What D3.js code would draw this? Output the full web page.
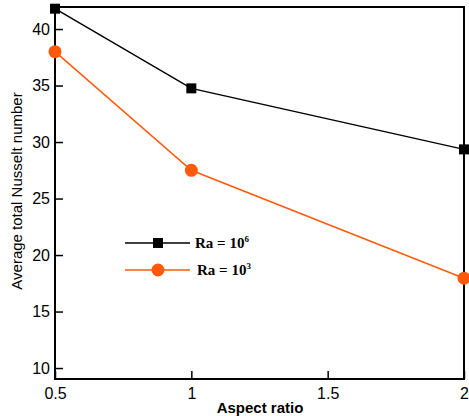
<!DOCTYPE html>
<html>
<head>
<meta charset="utf-8">
<script src="https://cdn.jsdelivr.net/npm/d3@7/dist/d3.min.js"></script>
<style>
  html, body { margin: 0; padding: 0; background: #fff; }
  svg { display: block; }
</style>
</head>
<body>
<svg id="chart" width="469" height="416"></svg>
<script>
// Aspect ratios on the x axis
const aspectRatios = [0.5, 1, 2];
// Average total Nusselt number for each Rayleigh number
const nuRa6 = [41.8, 34.75, 29.35];
const nuRa3 = [38.0, 27.5, 17.95];
// Axis ticks
const xTicks = [0.5, 1, 1.5, 2];
const yTicks = [10, 15, 20, 25, 30, 35, 40];
// Legend entries: base text and exponent
const seriesNames = ["Ra = 10", "Ra = 10"];
const seriesExponents = ["6", "3"];

const svg = d3.select("#chart");
const plotLeft = 55, plotRight = 464, plotTop = 7, plotBottom = 379;

const x = d3.scaleLinear().domain([0.5, 2]).range([plotLeft, plotRight]);
const y = d3.scaleLinear().domain([9.03, 41.95]).range([plotBottom, plotTop]);

const orange = "#ff5a0a";
const sans = "Arial, 'Liberation Sans', sans-serif";

// frame
svg.append("rect")
  .attr("x", plotLeft).attr("y", plotTop)
  .attr("width", plotRight - plotLeft).attr("height", plotBottom - plotTop)
  .attr("fill", "none").attr("stroke", "#000").attr("stroke-width", 2);

// y axis ticks (inward)
const yAxis = d3.axisLeft(y).tickValues(yTicks).tickSizeInner(-8).tickSizeOuter(0).tickPadding(5);
const gy = svg.append("g").attr("transform", `translate(${plotLeft},0)`).call(yAxis);
gy.select(".domain").remove();
gy.selectAll("line").attr("stroke", "#000").attr("stroke-width", 1.5);
gy.selectAll("text").attr("font-family", sans).attr("font-size", 16).attr("fill", "#000");

// x axis ticks (inward)
const xAxis = d3.axisBottom(x).tickValues(xTicks).tickFormat(d3.format("")).tickSizeInner(-8).tickSizeOuter(0).tickPadding(9);
const gx = svg.append("g").attr("transform", `translate(0,${plotBottom})`).call(xAxis);
gx.select(".domain").remove();
gx.selectAll("line").attr("stroke", "#000").attr("stroke-width", 1.5);
gx.selectAll("text").attr("font-family", sans).attr("font-size", 16).attr("fill", "#000");

// axis titles
svg.append("text")
  .attr("x", 260).attr("y", 413)
  .attr("text-anchor", "middle")
  .attr("font-family", sans)
  .attr("font-size", 15).attr("font-weight", "bold")
  .text("Aspect ratio");
svg.append("text")
  .attr("transform", "translate(22,191) rotate(-90)")
  .attr("text-anchor", "middle")
  .attr("font-family", sans)
  .attr("font-size", 15)
  .text("Average total Nusselt number");

const line = d3.line().x((d, i) => x(aspectRatios[i])).y(d => y(d));

// Ra = 10^6 series
svg.append("path").datum(nuRa6).attr("d", line)
  .attr("fill", "none").attr("stroke", "#000").attr("stroke-width", 1.5);
svg.selectAll(".sq").data(nuRa6).enter().append("rect")
  .attr("x", (d, i) => x(aspectRatios[i]) - 5)
  .attr("y", d => y(d) - 5)
  .attr("width", 10).attr("height", 10).attr("fill", "#000");

// Ra = 10^3 series
svg.append("path").datum(nuRa3).attr("d", line)
  .attr("fill", "none").attr("stroke", orange).attr("stroke-width", 1.5);
svg.selectAll(".ci").data(nuRa3).enter().append("circle")
  .attr("cx", (d, i) => x(aspectRatios[i]))
  .attr("cy", d => y(d))
  .attr("r", 6.5).attr("fill", orange);

// legend
const lg = svg.append("g");
lg.append("line").attr("x1", 125).attr("x2", 190).attr("y1", 243).attr("y2", 243)
  .attr("stroke", "#000").attr("stroke-width", 1.5);
lg.append("rect").attr("x", 153).attr("y", 238).attr("width", 10).attr("height", 10).attr("fill", "#000");
lg.append("line").attr("x1", 125).attr("x2", 190).attr("y1", 270).attr("y2", 270)
  .attr("stroke", orange).attr("stroke-width", 1.5);
lg.append("circle").attr("cx", 158).attr("cy", 270).attr("r", 6.5).attr("fill", orange);
const lt = lg.selectAll(".lt").data(seriesNames).enter().append("text")
  .attr("x", (d, i) => i === 0 ? 195 : 197)
  .attr("y", (d, i) => i === 0 ? 248 : 275)
  .attr("font-family", "'Liberation Serif', 'Times New Roman', serif")
  .attr("font-size", 15).attr("font-weight", "bold");
lt.append("tspan").text(d => d);
lt.append("tspan").attr("dy", -6).attr("font-size", 9).text((d, i) => seriesExponents[i]);
</script>
</body>
</html>
